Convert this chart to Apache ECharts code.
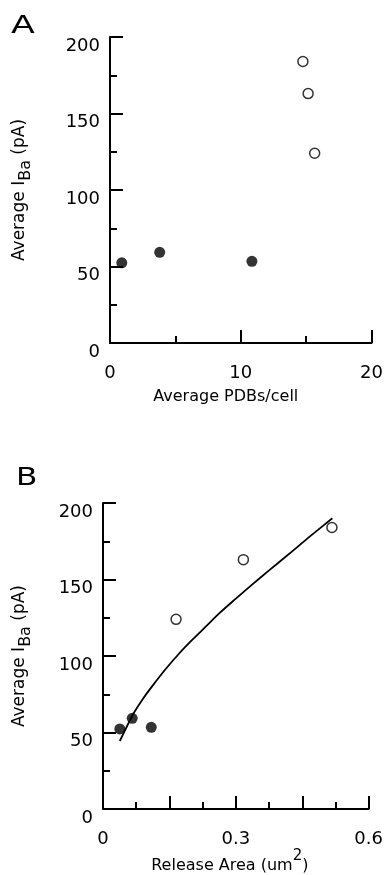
<!DOCTYPE html>
<html>
<head>
<meta charset="utf-8">
<script src="https://cdn.jsdelivr.net/npm/echarts@6/dist/echarts.min.js"></script>
<style>
  html, body {margin: 0; padding: 0; background: #fff;}
  #chart {width: 386px; height: 875px;}
</style>
</head>
<body>
<div id="chart"></div>
<script>
// panel A: average PDBs per cell vs average I_Ba
const pdbFilled = [0.9, 3.8, 10.85];
const pdbOpen = [15.65, 15.15, 14.75];
// panel B: release area vs average I_Ba
const areaFilled = [0.038, 0.066, 0.109];
const areaOpen = [0.165, 0.317, 0.517];
// I_Ba is the same for both panels (same cells)
const ibaFilled = [52.4, 59.3, 53.4];
const ibaOpen = [124, 163, 184];
// fitted curve in B
const fitArea = [0.038, 0.068, 0.09, 0.113, 0.143, 0.173, 0.203, 0.233, 0.263, 0.3, 0.338, 0.375, 0.413, 0.44, 0.473, 0.518];
const fitIba = [44.5, 62, 72, 81, 92, 102, 111, 119.5, 128, 137.5, 147, 156, 165, 171.5, 179.5, 190];

const yTicks = [0, 50, 100, 150, 200];
const xTicksA = [0, 10, 20];
const xTicksB = [0, 0.3, 0.6];

const FONT = 'DejaVu Sans';
const black = '#000';

const pair = (xs, ys) => xs.map((x, i) => [x, ys[i]]);

const yAxis = (idx) => ({
  gridIndex: idx,
  type: 'value',
  min: yTicks[0],
  max: yTicks[yTicks.length - 1],
  interval: 50,
  name: '{m|Average I}{s|Ba}{m| (pA)}',
  nameLocation: 'middle',
  nameRotate: 90,
  nameGap: idx === 0 ? 80 : 73,
  nameTextStyle: {
    fontFamily: FONT,
    color: black,
    rich: {
      m: {fontFamily: FONT, fontSize: 17, color: black, verticalAlign: 'top', lineHeight: 19},
      s: {fontFamily: FONT, fontSize: 16, color: black, verticalAlign: 'top', lineHeight: 19, padding: [7, 0, 0, 0]}
    }
  },
  axisLine: {show: true, lineStyle: {color: black, width: 2}},
  axisTick: {show: true, inside: true, length: 13, lineStyle: {color: black, width: 2}},
  minorTick: {show: true, splitNumber: 2, length: 7, lineStyle: {color: black, width: 2}},
  splitLine: {show: false},
  axisLabel: {
    fontFamily: FONT, fontSize: 18, color: black, margin: 10, verticalAlign: 'top',
    formatter: v => yTicks.includes(v) ? String(v) : ''
  }
});

const option = {
  animation: false,
  backgroundColor: '#fff',
  grid: [
    {left: 110, top: 37, width: 267, height: 306},
    {left: 103, top: 503, width: 267, height: 307}
  ],
  graphic: [
    {type: 'text', left: 11, top: 15, scaleX: 1.45, style: {text: 'A', fontFamily: FONT, fontSize: 24, fill: black}},
    {type: 'text', left: 16, top: 467, scaleX: 1.3, style: {text: 'B', fontFamily: FONT, fontSize: 24, fill: black}}
  ],
  xAxis: [
    {
      gridIndex: 0,
      type: 'value',
      min: 0, max: 20, interval: 10,
      name: 'Average PDBs/cell',
      nameLocation: 'middle',
      nameGap: 46,
      nameTextStyle: {fontFamily: FONT, fontSize: 16, color: black, padding: [0, 30, 0, 0]},
      axisLine: {show: true, lineStyle: {color: black, width: 2}},
      axisTick: {show: true, inside: true, length: 13, lineStyle: {color: black, width: 2}},
      minorTick: {show: true, splitNumber: 2, length: 7, lineStyle: {color: black, width: 2}},
      splitLine: {show: false},
      axisLabel: {
        fontFamily: FONT, fontSize: 18, color: black, margin: 21,
        formatter: v => xTicksA.includes(v) ? String(v) : ''
      }
    },
    {
      gridIndex: 1,
      type: 'value',
      min: 0, max: 0.6, interval: 0.15,
      name: '{m|Release Area (um}{p|2}{m|)}',
      nameLocation: 'middle',
      nameGap: 36,
      nameTextStyle: {
        fontFamily: FONT, color: black, padding: [0, 12, 0, 0],
        rich: {
          m: {fontFamily: FONT, fontSize: 16, color: black, verticalAlign: 'top', lineHeight: 18, padding: [9, 0, 0, 0]},
          p: {fontFamily: FONT, fontSize: 15, color: black, verticalAlign: 'top', lineHeight: 18}
        }
      },
      axisLine: {show: true, lineStyle: {color: black, width: 2}},
      axisTick: {show: true, inside: true, length: 13, lineStyle: {color: black, width: 2}},
      minorTick: {show: true, splitNumber: 2, length: 7, lineStyle: {color: black, width: 2}},
      splitLine: {show: false},
      axisLabel: {
        fontFamily: FONT, fontSize: 18, color: black, margin: 21,
        formatter: v => {
          const hit = xTicksB.find(t => Math.abs(t - v) < 1e-6);
          return hit === undefined ? '' : (hit === 0 ? '0' : hit.toFixed(1));
        }
      }
    }
  ],
  yAxis: [yAxis(0), yAxis(1)],
  series: [
    {
      type: 'scatter', xAxisIndex: 0, yAxisIndex: 0,
      data: pair(pdbFilled, ibaFilled),
      symbol: 'circle', symbolSize: 11,
      itemStyle: {color: black}
    },
    {
      type: 'scatter', xAxisIndex: 0, yAxisIndex: 0,
      data: pair(pdbOpen, ibaOpen),
      symbol: 'circle', symbolSize: 10,
      itemStyle: {color: '#fff', borderColor: black, borderWidth: 1.5}
    },
    {
      type: 'line', xAxisIndex: 1, yAxisIndex: 1,
      data: pair(fitArea, fitIba),
      smooth: 0.3, showSymbol: false,
      lineStyle: {color: black, width: 1.8}
    },
    {
      type: 'scatter', xAxisIndex: 1, yAxisIndex: 1,
      data: pair(areaFilled, ibaFilled),
      symbol: 'circle', symbolSize: 11,
      itemStyle: {color: black}
    },
    {
      type: 'scatter', xAxisIndex: 1, yAxisIndex: 1,
      data: pair(areaOpen, ibaOpen),
      symbol: 'circle', symbolSize: 10,
      itemStyle: {color: '#fff', borderColor: black, borderWidth: 1.5}
    }
  ]
};

const myChart = echarts.init(document.getElementById('chart'));
myChart.setOption(option);
</script>
</body>
</html>
